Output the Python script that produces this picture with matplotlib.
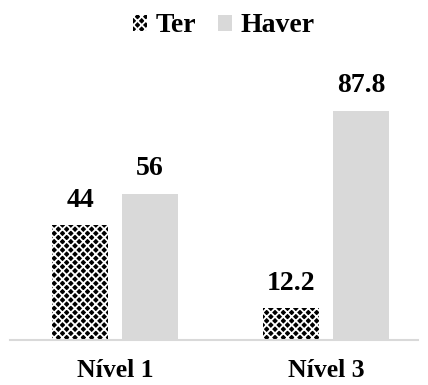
import numpy as np
import matplotlib.pyplot as plt
from matplotlib.patches import Patch

niveis = ['Nível 1', 'Nível 3']
ter = [44, 12.2]
haver = [56, 87.8]

plt.rcParams['font.family'] = 'Liberation Serif'
plt.rcParams['font.weight'] = 'bold'
plt.rcParams['hatch.linewidth'] = 1.3

fig = plt.figure(figsize=(4.28, 3.85), dpi=100)
ax = fig.add_axes([10 / 428, 45 / 385, 408 / 428, 261 / 385])

x = np.arange(len(niveis))
w = 0.265
off = 0.166

b1 = ax.bar(x - off, ter, w, color='black', edgecolor='white', hatch='xxxx', linewidth=0)
b2 = ax.bar(x + off, haver, w, color='#d9d9d9', linewidth=0)

# rótulos com os valores em cima das barras
for bars, vals in ((b1, ter), (b2, haver)):
    for b, v in zip(bars, vals):
        ax.annotate(f'{v:g}', (b.get_x() + b.get_width() / 2, v),
                    xytext=(0, 9), textcoords='offset points',
                    ha='center', va='bottom', fontsize=20, fontweight='bold')

ax.set_xlim(-0.498, 1.436)
ax.set_ylim(0, 100)
ax.set_yticks([])
ax.set_xticks(x)
ax.set_xticklabels(niveis, fontsize=18.5, fontweight='bold')
ax.tick_params(axis='x', length=0, pad=14)
for s in ['top', 'right', 'left']:
    ax.spines[s].set_visible(False)
ax.spines['bottom'].set_color('#d9d9d9')
ax.spines['bottom'].set_linewidth(1.5)

handles = [Patch(facecolor='black', edgecolor='white', hatch='xxxx', linewidth=0),
           Patch(facecolor='#d9d9d9', linewidth=0)]
fig.legend(handles, ['Ter', 'Haver'], loc='center', bbox_to_anchor=(0.523, 1 - 26 / 385),
           ncol=2, frameon=False, prop={'size': 20, 'weight': 'bold'},
           handlelength=0.5, handleheight=0.5, handletextpad=0.3, columnspacing=0.8)

fig.savefig('out.png', dpi=100)
